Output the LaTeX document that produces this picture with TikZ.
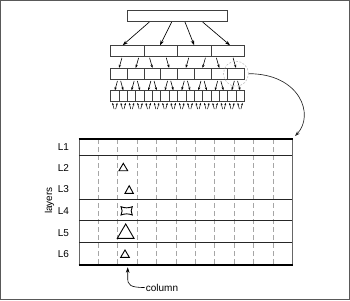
\documentclass[tikz,border=0pt]{standalone}
\usepackage{fontspec}
\setmainfont{Liberation Sans}
\usetikzlibrary{arrows.meta,calc}
\begin{document}
\begin{tikzpicture}[x=1pt,y=-1pt,
  box/.style={draw=black!75, line width=0.7pt, inner sep=0pt, minimum height=10.8pt},
  arr/.style={-{Stealth[length=5pt,width=3.4pt]}, line width=0.65pt},
  sarr/.style={-{Stealth[length=3.2pt,width=2.3pt]}, line width=0.6pt},
  tarr/.style={-{Stealth[length=2.4pt,width=1.8pt]}, line width=0.5pt},
  lbl/.style={font=\fontsize{10}{12}\selectfont, inner sep=1pt},
  tri/.style={draw=black, line width=0.9pt, line join=miter},
  hline/.style={draw=black!85, line width=1.3pt},
  bline/.style={draw=black, line width=2pt},
  dline/.style={draw=black!35, line width=0.7pt, dash pattern=on 5pt off 3pt}]
\useasboundingbox (0,0) rectangle (350,300);
% hierarchy of boxes
\node[box, minimum width=100.4pt, minimum height=11pt] (T) at (177.5,16.2) {};
\foreach \i in {1,...,4}
  \node[box, minimum width=33.4pt, minimum height=10.4pt] (A\i) at ({110.7+33.4*(\i-0.5)},50.8) {};
\foreach \i in {1,...,8}
  \node[box, minimum width=16.7pt] (B\i) at ({110.7+16.7*(\i-0.5)},73.7) {};
\foreach \i in {1,...,16}
  \node[box, minimum width=8.35pt, minimum height=11pt] (C\i) at ({110.7+8.35*(\i-0.5)},96.2) {};
% top arrows
\draw[arr] ([xshift=-28.2pt]T.south) -- ([xshift=-4.7pt]A1.north);
\draw[arr] ([xshift=-5.8pt]T.south) -- ([xshift=-0.8pt]A2.north);
\draw[arr] ([xshift=7.5pt]T.south) -- (A3.north);
\draw[arr] ([xshift=25.2pt]T.south) -- ([xshift=2.4pt]A4.north);
% A -> B
\foreach \k/\p/\s in {1/1/3.3pt,2/1/3.3pt,3/2/-3.3pt,4/2/-3.3pt,5/3/3.3pt,6/3/3.3pt,7/4/-3.3pt,8/4/-3.3pt}
  \draw[sarr, shorten <=1.5pt] ([xshift=\s]B\k.north |- A\p.south) -- (B\k.north);
% B -> C
\foreach \k in {1,...,8} {
  \pgfmathtruncatemacro\l{2*\k-1}
  \pgfmathtruncatemacro\r{2*\k}
  \draw[sarr, shorten <=1.5pt] ([xshift=-1.2pt]B\k.south) -- (C\l.north);
  \draw[sarr, shorten <=1.5pt] ([xshift=1.2pt]B\k.south) -- (C\r.north);
}
% inputs below C
\foreach \i in {1,...,16} {
  \draw[tarr] ([xshift=-0.8pt,yshift=-7pt]C\i.south) -- ([xshift=-2.4pt,yshift=-0.8pt]C\i.south);
  \draw[tarr] ([xshift=0.8pt,yshift=-7pt]C\i.south) -- ([xshift=2.4pt,yshift=-0.8pt]C\i.south);
}
% highlight circle
\node[draw=black!25, dash pattern=on 2pt off 1.5pt, line width=0.6pt, circle, minimum size=25pt, inner sep=0pt] (hl) at (B8) {};
% grid
\node[minimum width=213.3pt, minimum height=125.7pt, inner sep=0pt] (grid) at (185.65,202.15) {};
\foreach \k in {1,...,10}
  \draw[dline] ({79+19.39*\k},139.3) -- ({79+19.39*\k},265);
\draw[black!60, line width=0.8pt] (79,139.3) -- (79,265) (292.3,139.3) -- (292.3,265);
\foreach \y in {155.3,199.3,220.7,242.7}
  \draw[hline] (79,\y) -- (292.3,\y);
\draw[bline] (78.5,139.3) -- (292.8,139.3);
\draw[bline] (78.5,265) -- (292.8,265);
% curved connector
\draw[arr, black!85] (hl.east) .. controls (300,73.7) and (315,115) .. ([xshift=2.5pt,yshift=3pt]grid.north east);
% layer labels
\node[lbl] (L1) at (63.5,147.3) {L1};
\node[lbl] (L2) at (63.5,168) {L2};
\node[lbl] (L3) at (63.5,188.8) {L3};
\node[lbl] (L4) at (63.5,211.3) {L4};
\node[lbl] (L5) at (63.5,233) {L5};
\node[lbl] (L6) at (63.5,254.3) {L6};
\node[lbl, rotate=90] (lay) at (49.5,200.5) {layers};
% cells
\draw[tri] (119,170.7) -- (123.3,163.3) -- (127.7,170.7) -- cycle;
\draw[tri] (125,193.3) -- (129.2,185.7) -- (133.3,193.3) -- cycle;
\draw[tri] (121,206.7) .. controls (125,208.2) and (128.3,208.2) .. (132.3,206.7)
  .. controls (130.8,209.5) and (130.8,212.2) .. (132.3,215)
  .. controls (128.3,213.5) and (125,213.5) .. (121,215)
  .. controls (122.5,212.2) and (122.5,209.5) .. (121,206.7) -- cycle;
\draw[tri] (117.3,238.3) -- (125.7,224) -- (134,238.3) -- cycle;
\draw[tri] (120.7,257.3) -- (125,250) -- (129.3,257.3) -- cycle;
% column label
\node[lbl, anchor=west] (col) at (144.7,287.5) {column};
\coordinate (ctip) at (127.7,267.3);
\draw[-{Stealth[length=5.5pt,width=3.6pt]}, line width=0.6pt] (col.west) .. controls (130,287.5) and (127.7,285) .. (127.7,278) -- (ctip);
% frame
\draw[black!65, line width=1pt] (0.5,0.5) rectangle (349.5,299.5);
\end{tikzpicture}
\end{document}
